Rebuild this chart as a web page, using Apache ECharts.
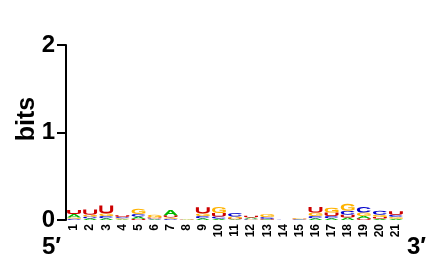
<!DOCTYPE html>
<html>
<head>
<meta charset="utf-8">
<script src="https://cdn.jsdelivr.net/npm/echarts@6/dist/echarts.min.js"></script>
<style>
html, body { margin: 0; padding: 0; background: #fff; }
#chart_logo { width: 435px; height: 262px; }
</style>
</head>
<body>
<div id="chart_logo"></div>
<script>
// positions 1..21
var positions = ['1','2','3','4','5','6','7','8','9','10','11','12','13','14','15','16','17','18','19','20','21'];
var yTicks = ['0', '1', '2'];

// bits per letter at each position
var bitsA = [0.040, 0.020, 0.020, 0.010, 0.025, 0.008, 0.060, 0.002, 0.020, 0.015, 0.010, 0.015, 0.005, 0.001, 0.004, 0.020, 0.020, 0.030, 0.025, 0.015, 0.015];
var bitsC = [0.015, 0.020, 0.025, 0.015, 0.030, 0.010, 0.015, 0.002, 0.025, 0.025, 0.040, 0.010, 0.020, 0.001, 0.004, 0.025, 0.025, 0.045, 0.065, 0.045, 0.025];
var bitsG = [0.015, 0.020, 0.030, 0.010, 0.060, 0.030, 0.015, 0.002, 0.030, 0.070, 0.020, 0.005, 0.035, 0.001, 0.010, 0.040, 0.055, 0.080, 0.040, 0.025, 0.020];
var bitsU = [0.045, 0.060, 0.090, 0.020, 0.015, 0.012, 0.025, 0.002, 0.070, 0.040, 0.010, 0.020, 0.010, 0.001, 0.005, 0.065, 0.040, 0.030, 0.020, 0.020, 0.040];

var letters = ['A', 'C', 'G', 'U'];
var colors = ['#00b800', '#0000cc', '#ffb300', '#cc0000'];
var glyphs = [
    'M0 100 L38 0 L62 0 L100 100 L77 100 L68 76 L32 76 L23 100 Z M38 58 L62 58 L50 24 Z',
    'M100 30 Q90 0 50 0 Q0 0 0 50 Q0 100 50 100 Q90 100 100 70 L79 63 Q73 80 50 80 Q22 80 22 50 Q22 20 50 20 Q73 20 79 37 Z',
    'M100 30 Q90 0 50 0 Q0 0 0 50 Q0 100 50 100 Q80 100 100 86 L100 48 L54 48 L54 65 L79 65 L79 76 Q68 81 50 80 Q22 80 22 50 Q22 20 50 20 Q73 20 79 37 Z',
    'M0 0 L22 0 L22 62 Q22 80 50 80 Q78 80 78 62 L78 0 L100 0 L100 62 Q100 100 50 100 Q0 100 0 62 Z'
];

// stack letters per column, smallest at the bottom
var table = [bitsA, bitsC, bitsG, bitsU];
var stacks = [];
for (var i = 0; i < positions.length; i++) {
    var col = [];
    for (var k = 0; k < letters.length; k++) {
        col.push({ k: k, h: table[k][i] });
    }
    col.sort(function (a, b) { return a.h - b.h; });
    var base = 0;
    col.forEach(function (c) {
        stacks.push([i, base, base + c.h, c.k]);
        base += c.h;
    });
}

var myChart = echarts.init(document.getElementById('chart_logo'));

var option = {
    animation: false,
    grid: { left: 66, right: 31, top: 45, bottom: 42 },
    xAxis: {
        type: 'category',
        data: positions,
        axisLine: { show: false },
        axisTick: { show: false },
        axisLabel: {
            interval: 0,
            rotate: 90,
            margin: 4,
            color: '#000',
            fontSize: 12,
            fontWeight: 'bold',
            fontFamily: 'Liberation Sans'
        }
    },
    yAxis: {
        type: 'value',
        min: 0,
        max: 2,
        interval: 1,
        splitLine: { show: false },
        axisLine: { show: true, lineStyle: { color: '#000', width: 2 } },
        axisTick: { show: true, length: 9, lineStyle: { color: '#000', width: 2 } },
        axisLabel: {
            margin: 11,
            color: '#000',
            fontSize: 24,
            fontWeight: 'bold',
            fontFamily: 'Liberation Sans',
            formatter: function (v) { return yTicks[v]; }
        }
    },
    graphic: [
        { type: 'text', x: 27, y: 119, rotation: Math.PI / 2,
          style: { text: 'bits', fill: '#000', font: 'bold 25px "Liberation Sans"', textAlign: 'center', textVerticalAlign: 'middle' } },
        { type: 'text', x: 42, y: 247,
          style: { text: '5′', fill: '#000', font: 'bold 24px "Liberation Sans"', textAlign: 'left', textVerticalAlign: 'middle' } },
        { type: 'text', x: 407, y: 247,
          style: { text: '3′', fill: '#000', font: 'bold 24px "Liberation Sans"', textAlign: 'left', textVerticalAlign: 'middle' } }
    ],
    series: [{
        type: 'custom',
        data: stacks,
        encode: { x: 0, y: [1, 2] },
        renderItem: function (params, api) {
            var x = api.value(0), y0 = api.value(1), y1 = api.value(2), k = api.value(3);
            var pb = api.coord([x, y0]);
            var pt = api.coord([x, y1]);
            var w = api.size([1, 0])[0] * 0.86;
            var h = pb[1] - pt[1];
            if (h <= 0.05) return null;
            return {
                type: 'path',
                shape: { pathData: glyphs[k], x: pb[0] - w / 2, y: pt[1], width: w, height: h, layout: 'cover' },
                style: { fill: colors[k] }
            };
        }
    }]
};

myChart.setOption(option);
</script>
</body>
</html>
